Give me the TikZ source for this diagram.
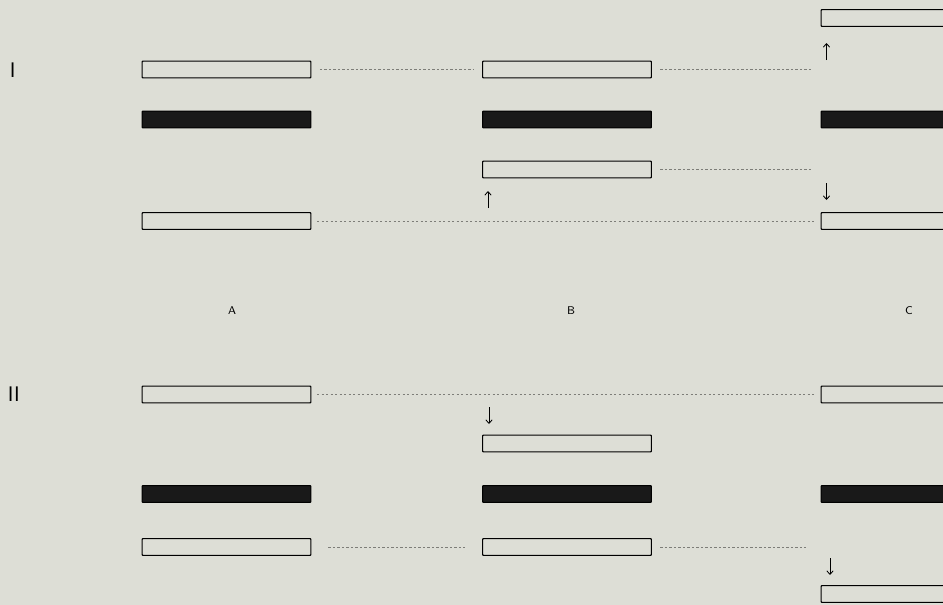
\documentclass[tikz,border=0pt]{standalone}
\usetikzlibrary{arrows.meta}
\definecolor{paper}{RGB}{221,222,214}
\definecolor{rule}{RGB}{125,125,120}
\tikzset{strand/.style={draw, line width=0.8pt, rounded corners=0.6pt, fill=paper,
		minimum width=4.22cm, minimum height=0.42cm, inner sep=0pt}}
\tikzset{dark strand/.style={strand, fill=black!90}}

\begin{document}
\begin{tikzpicture}[x=0.025cm, y=-0.025cm,
		link/.style={rule, line width=0.55pt, dash pattern=on 1.6pt off 1.6pt, shorten <=#1, shorten >=#1},
		link/.default=6pt,
		move/.style={-{Straight Barb[length=2.5pt, width=4.5pt]}, line width=0.6pt},
		col/.style={font=\fontsize{8}{9}\sffamily},
		part/.style={font=\fontsize{15}{16}\sffamily, anchor=west}
		]    % one px of the plate is one unit
		\fill[paper] (0,0) rectangle (943,605);
		\useasboundingbox (0,0) rectangle (943,605);
		\clip (0,0) rectangle (943,605);
		% part I
		\node[part] (p1) at (5,70) {I};
		\node[strand] (c0) at (905.5,18) {};
		\node[strand] (a1) at (226.5,69.5) {};
		\node[strand] (b1) at (567,69.5) {};
		\node[dark strand] (a2) at (226.5,119.5) {};
		\node[dark strand] (b2) at (567,119.5) {};
		\node[dark strand] (c2) at (905.5,119.5) {};
		\node[strand] (b3) at (567,169.5) {};
		\node[strand] (a4) at (226.5,221) {};
		\node[strand] (c4) at (905.5,221) {};
		\coordinate (e1) at (813,69.5);
		\coordinate (e3) at (813,169.5);
		\draw[link] (a1) -- (b1);
		\draw[link, shorten >=0pt] (b1) -- (e1);
		\draw[link, shorten >=0pt] (b3) -- (e3);
		\draw[link=4pt] (a4) -- (c4);
		\coordinate (u1) at (826.5,60);
		\coordinate (u2) at (488,208);
		\coordinate (d1) at (826.5,183);
		\draw[move] (u1) -- ++(0,-17);
		\draw[move] (u2) -- ++(0,-17);
		\draw[move] (d1) -- ++(0,17);
		% columns
		\node[col] (la) at (232,311) {A};
		\node[col] (lb) at (571,311) {B};
		\node[col] (lc) at (909,311) {C};
		% part II
		\node[part] (p2) at (3,394) {II};
		\node[strand] (a5) at (226.5,394.5) {};
		\node[strand] (c5) at (905.5,394.5) {};
		\node[strand] (b6) at (567,443.5) {};
		\node[dark strand] (a7) at (226.5,494) {};
		\node[dark strand] (b7) at (567,494) {};
		\node[dark strand] (c7) at (905.5,494) {};
		\node[strand] (a8) at (226.5,547) {};
		\node[strand] (b8) at (567,547) {};
		\node[strand] (c9) at (905.5,594) {};
		\coordinate (e8) at (806,547);
		\draw[link=4pt] (a5) -- (c5);
		\draw[link=12pt] (a8) -- (b8);
		\draw[link, shorten >=0pt] (b8) -- (e8);
		\coordinate (d2) at (489,407);
		\coordinate (d3) at (830,558);
		\draw[move] (d2) -- ++(0,17);
		\draw[move] (d3) -- ++(0,17);
	\end{tikzpicture}
\end{document}
